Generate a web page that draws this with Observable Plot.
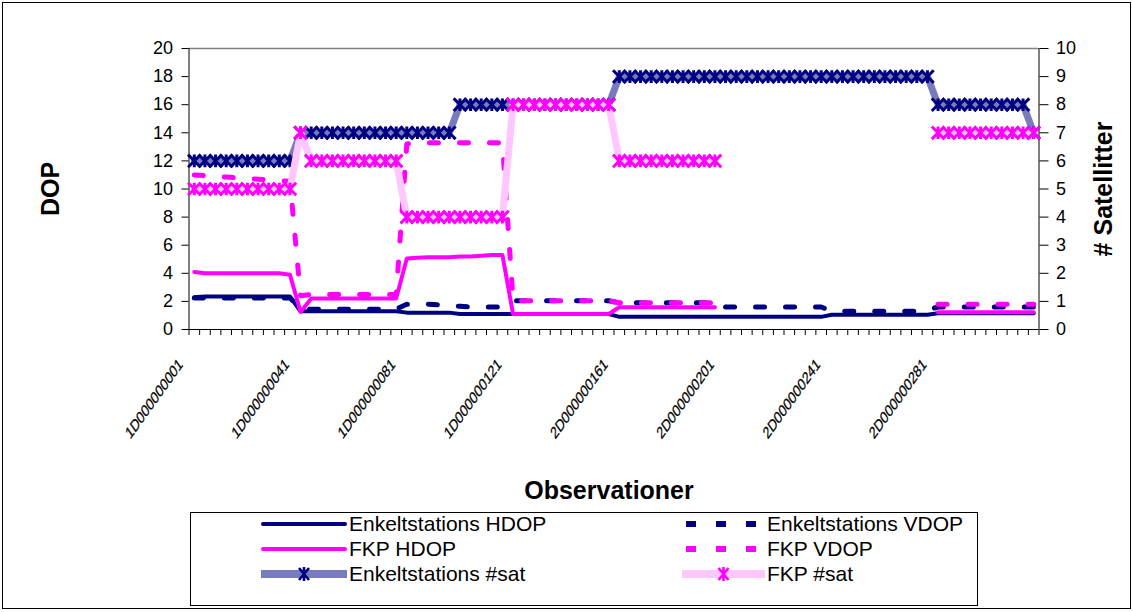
<!DOCTYPE html>
<html><head><meta charset="utf-8">
<script src="https://cdn.jsdelivr.net/npm/d3@7"></script>
<script src="https://cdn.jsdelivr.net/npm/@observablehq/plot@0.6"></script>
<style>
html,body{margin:0;padding:0;background:#fff;}
#frame{position:absolute;left:2px;top:2px;width:1129px;height:607px;border:1px solid #000;box-sizing:border-box;}
#chart{position:absolute;left:0;top:0;}
#legend{position:absolute;left:190px;top:512px;width:788px;height:94px;border:1px solid #000;box-sizing:border-box;background:#fff;font-family:"Liberation Sans",Arial,sans-serif;font-size:21px;color:#000;}
.item{position:absolute;height:24px;line-height:24px;white-space:nowrap;}
.item svg{position:absolute;top:0;}
.item span{position:absolute;top:0;}
</style></head><body>
<div id="frame"></div>
<div id="chart"></div>
<div id="legend"></div>
<script>
// ---- data (80 observations, every 4th observation id) ----
const tickLabels = ["1D000000001","1D000000041","1D000000081","1D000000121","2D000000161","2D000000201","2D000000241","2D000000281"];
const tickLabelIndex = [0,10,20,30,40,50,60,70];

const enkH = [2.3,2.35,2.35,2.35,2.35,2.35,2.35,2.35,2.35,2.35,
  1.3,1.3,1.3,1.3,1.3,1.3,1.3,1.3,1.3,1.3,
  1.2,1.2,1.2,1.2,1.2,1.1,1.1,1.1,1.1,1.1,
  1.1,1.1,1.1,1.1,1.1,1.1,1.1,1.1,1.1,1.1,
  0.9,0.9,0.9,0.9,0.9,0.9,0.9,0.9,0.9,0.9,
  0.9,0.9,0.9,0.9,0.9,0.9,0.9,0.9,0.9,0.9,
  1.05,1.05,1.05,1.05,1.05,1.05,1.05,1.05,1.05,1.05,
  1.15,1.15,1.15,1.15,1.15,1.15,1.15,1.15,1.15,1.15];

const enkV = [2.25,2.25,2.25,2.25,2.25,2.25,2.25,2.25,2.25,2.25,
  1.45,1.45,1.45,1.45,1.45,1.45,1.45,1.45,1.45,1.45,
  1.8,1.8,1.8,1.75,1.7,1.65,1.6,1.6,1.6,1.6,
  2.05,2.05,2.05,2.05,2.05,2.05,2.05,2.05,2.05,2.05,
  1.9,1.9,1.9,1.9,1.9,1.9,1.9,1.9,1.9,1.9,
  1.6,1.6,1.6,1.6,1.6,1.6,1.6,1.6,1.6,1.6,
  1.3,1.3,1.3,1.3,1.3,1.3,1.3,1.3,1.3,1.4,
  1.6,1.6,1.6,1.6,1.6,1.6,1.6,1.6,1.6,1.6];

const fkpH = [4.1,4.0,4.0,4.0,4.0,4.0,4.0,4.0,4.0,3.9,
  1.25,2.2,2.2,2.2,2.2,2.2,2.2,2.2,2.2,2.2,
  5.05,5.1,5.15,5.15,5.15,5.2,5.2,5.25,5.3,5.3,
  1.1,1.1,1.1,1.1,1.1,1.1,1.1,1.1,1.1,1.1,
  1.58,1.58,1.58,1.58,1.58,1.58,1.58,1.58,1.58,1.58,
  null,null,null,null,null,null,null,null,null,null,
  null,null,null,null,null,null,null,null,null,null,
  1.23,1.23,1.23,1.23,1.23,1.23,1.23,1.23,1.23,1.23];

const fkpV = [11.0,10.95,10.9,10.85,10.8,10.75,10.7,10.65,10.6,10.55,
  2.4,2.5,2.5,2.5,2.5,2.5,2.5,2.5,2.5,2.5,
  13.2,13.3,13.3,13.3,13.3,13.3,13.3,13.3,13.3,13.3,
  2.05,2.05,2.05,2.05,2.05,2.05,2.05,2.05,2.05,2.05,
  1.9,1.9,1.9,1.9,1.9,1.9,1.9,1.9,1.9,1.9,
  null,null,null,null,null,null,null,null,null,null,
  null,null,null,null,null,null,null,null,null,null,
  1.8,1.8,1.8,1.8,1.8,1.8,1.8,1.8,1.8,1.8];

const enkSat = [6,6,6,6,6,6,6,6,6,6,
  7,7,7,7,7,7,7,7,7,7,
  7,7,7,7,7,8,8,8,8,8,
  8,8,8,8,8,8,8,8,8,8,
  9,9,9,9,9,9,9,9,9,9,
  9,9,9,9,9,9,9,9,9,9,
  9,9,9,9,9,9,9,9,9,9,
  8,8,8,8,8,8,8,8,8,7];

const fkpSat = [5,5,5,5,5,5,5,5,5,5,
  7,6,6,6,6,6,6,6,6,6,
  4,4,4,4,4,4,4,4,4,4,
  8,8,8,8,8,8,8,8,8,8,
  6,6,6,6,6,6,6,6,6,6,
  null,null,null,null,null,null,null,null,null,null,
  null,null,null,null,null,null,null,null,null,null,
  7,7,7,7,7,7,7,7,7,7];

const yTicks = [0,2,4,6,8,10,12,14,16,18,20];
const satTicks = [0,1,2,3,4,5,6,7,8,9,10];

// ---- build ----
const n = enkH.length;
const rows = d3.range(n).map(i => ({i, enkH: enkH[i], enkV: enkV[i], fkpH: fkpH[i], fkpV: fkpV[i], enkSat: enkSat[i], fkpSat: fkpSat[i]}));
const bounds = d3.range(n + 1).map(k => k - 0.5);
const satScale = 2; // secondary axis 0-10 shares the 0-20 primary scale

const NAVY = "#000080", MAG = "#ff00ff", NAVYBAND = "#787cbf", PINKBAND = "#ffc6ff";

const star = {draw(ctx, size) {
  const r = Math.sqrt(size / Math.PI);
  ctx.moveTo(-r, -r); ctx.lineTo(r, r);
  ctx.moveTo(r, -r); ctx.lineTo(-r, r);
  ctx.moveTo(0, -r); ctx.lineTo(0, r);
}};

const chart = Plot.plot({
  width: 1133, height: 500,
  marginLeft: 188.5, marginRight: 94.5, marginTop: 48, marginBottom: 171,
  x: {type: "linear", domain: [-0.5, n - 0.5]},
  y: {type: "linear", domain: [0, 20]},
  style: {fontFamily: "'Liberation Sans', Arial, sans-serif", fontSize: "18px", color: "#000", background: "transparent", overflow: "visible"},
  marks: [
    Plot.ruleY([20], {stroke: "#808080", strokeWidth: 1.5}),
    Plot.ruleY([0], {stroke: "#000", strokeWidth: 1}),
    Plot.ruleX([-0.5], {stroke: "#000", strokeWidth: 1}),
    Plot.ruleX([n - 0.5], {stroke: "#000", strokeWidth: 1}),
    Plot.axisY(yTicks, {anchor: "left", tickSize: 7, tickPadding: 9, fontSize: 18, label: null, text: d => String(d)}),
    Plot.axisY(satTicks, {anchor: "right", y: d => d * satScale, tickSize: 9, tickPadding: 8, fontSize: 18, label: null, text: d => String(d)}),
    Plot.axisX(bounds, {anchor: "bottom", tickSize: 6, fill: "none", label: null}),
    Plot.axisX(tickLabelIndex, {anchor: "bottom", tickSize: 0, tickPadding: 32, tickRotate: -45, lineAnchor: "middle", textAnchor: "end", dx: -13.5, fontSize: 15, label: null, text: (d, i) => tickLabels[i]}),
    Plot.text(["DOP"], {frameAnchor: "left", dx: -138.5, rotate: -90, textAnchor: "middle", lineAnchor: "middle", fontSize: 25, fontWeight: "bold"}),
    Plot.text(["# Satellitter"], {frameAnchor: "right", dx: 64.5, rotate: -90, textAnchor: "middle", lineAnchor: "middle", fontSize: 25, fontWeight: "bold"}),
    Plot.text(["Observationer"], {frameAnchor: "bottom", dx: -5, dy: 161, textAnchor: "middle", lineAnchor: "middle", fontSize: 25, fontWeight: "bold"}),
    // DOP series
    Plot.line(rows, {x: "i", y: "enkH", stroke: NAVY, strokeWidth: 4, strokeLinejoin: "round", strokeLinecap: "round"}),
    Plot.line(rows, {x: "i", y: "enkV", stroke: NAVY, strokeWidth: 5, strokeDasharray: "9,21", strokeLinejoin: "round"}),
    Plot.line(rows, {x: "i", y: "fkpH", stroke: MAG, strokeWidth: 4, strokeLinejoin: "round", strokeLinecap: "round"}),
    Plot.line(rows, {x: "i", y: "fkpV", stroke: MAG, strokeWidth: 5, strokeDasharray: "9,21", strokeLinejoin: "round"}),
    // satellite series (secondary axis)
    Plot.line(rows, {x: "i", y: d => d.enkSat == null ? null : d.enkSat * satScale, stroke: NAVYBAND, strokeWidth: 7, strokeLinejoin: "round"}),
    Plot.dot(rows, {x: "i", y: d => d.enkSat == null ? null : d.enkSat * satScale, symbol: star, r: 6.3, stroke: NAVY, strokeWidth: 3, fill: "none"}),
    Plot.line(rows, {x: "i", y: d => d.fkpSat == null ? null : d.fkpSat * satScale, stroke: PINKBAND, strokeWidth: 7, strokeLinejoin: "round"}),
    Plot.dot(rows, {x: "i", y: d => d.fkpSat == null ? null : d.fkpSat * satScale, symbol: star, r: 6.3, stroke: MAG, strokeWidth: 3, fill: "none"})
  ]
});
// non-uniform stretch of the slanted category labels, as in the original rendering
chart.querySelectorAll('g[aria-label="x-axis tick label"] text').forEach(t => {
  const tr = t.getAttribute("transform") || "";
  t.setAttribute("transform", tr.replace(/rotate\(([-\d.]+)\)/, "scale(0.8,1.12) rotate($1)"));
  t.setAttribute("stroke", "#000");
  t.setAttribute("stroke-width", "0.25");
});
document.getElementById("chart").append(chart);

// ---- legend ----
const legendItems = [
  {label: "Enkeltstations HDOP", kind: "solid", color: NAVY, col: 0, row: 0},
  {label: "Enkeltstations VDOP", kind: "dash", color: NAVY, col: 1, row: 0},
  {label: "FKP HDOP", kind: "solid", color: MAG, col: 0, row: 1},
  {label: "FKP VDOP", kind: "dash", color: MAG, col: 1, row: 1},
  {label: "Enkeltstations #sat", kind: "sat", color: NAVY, band: NAVYBAND, col: 0, row: 2},
  {label: "FKP #sat", kind: "sat", color: MAG, band: PINKBAND, col: 1, row: 2}
];
const colX = [70, 491], rowY = [-1, 24, 49], swW = [86, 83];
const legend = document.getElementById("legend");
for (const it of legendItems) {
  const w = swW[it.col];
  const div = document.createElement("div");
  div.className = "item";
  div.style.left = colX[it.col] + "px";
  div.style.top = rowY[it.row] + "px";
  let g = "";
  if (it.kind === "solid") g = `<line x1="2" x2="${w-2}" y1="12" y2="12" stroke="${it.color}" stroke-width="4" stroke-linecap="round"/>`;
  if (it.kind === "dash") g = `<line x1="4" x2="${w}" y1="12" y2="12" stroke="${it.color}" stroke-width="6" stroke-dasharray="10,20"/>`;
  if (it.kind === "sat") {
    const c = w / 2;
    g = `<line x1="0" x2="${w}" y1="12" y2="12" stroke="${it.band}" stroke-width="8"/>` +
        `<path d="M${c-5},6L${c+5},18M${c+5},6L${c-5},18M${c},5L${c},19" stroke="${it.color}" stroke-width="2.6" fill="none"/>`;
  }
  div.innerHTML = `<svg width="${w}" height="24">${g}</svg><span style="left:${w+2}px">${it.label}</span>`;
  legend.append(div);
}
</script></body></html>
